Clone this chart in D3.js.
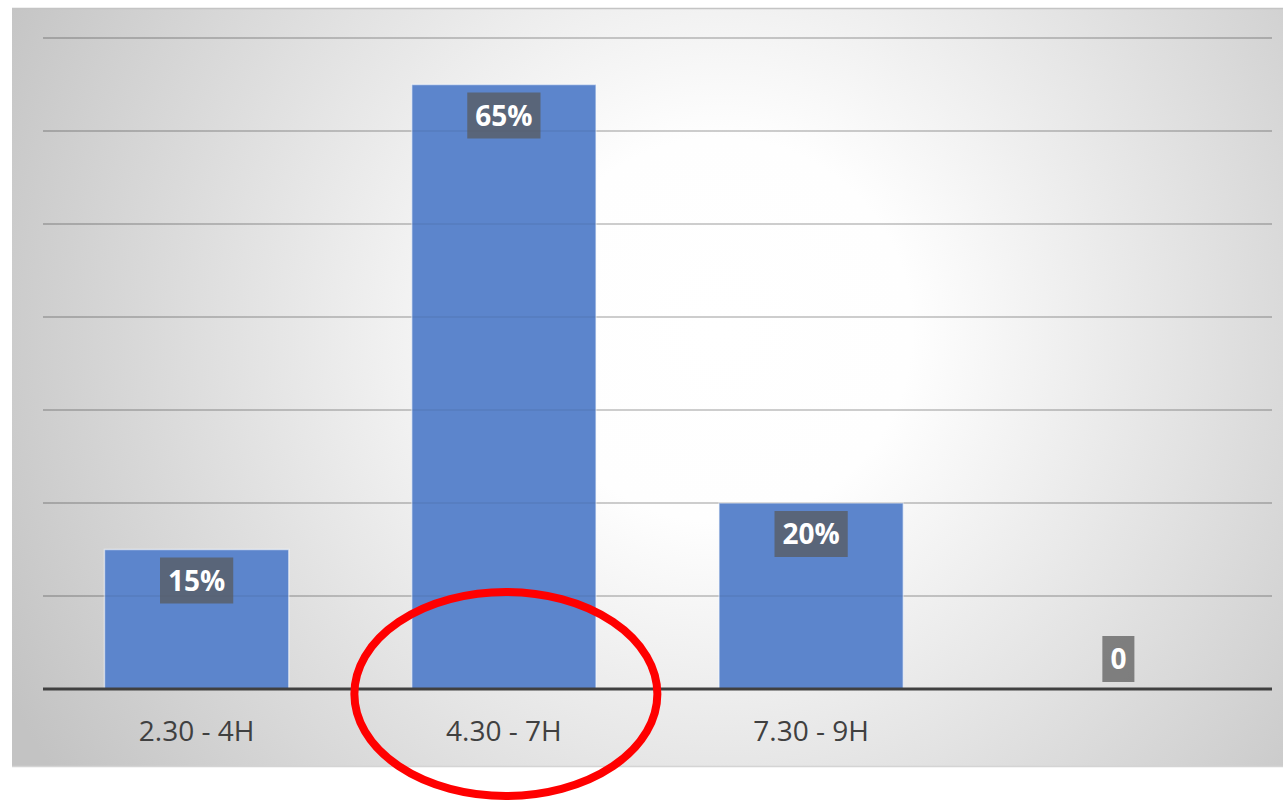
<!DOCTYPE html>
<html>
<head>
<meta charset="utf-8">
<script src="https://cdn.jsdelivr.net/npm/d3@7"></script>
<style>
  body { margin: 0; background: #ffffff; }
  svg { display: block; }
</style>
</head>
<body>
<div class="chart"></div>
<script>
const categories = ["2.30 - 4H", "4.30 - 7H", "7.30 - 9H", ""]
const values = [15, 65, 20, 0]
const valueLabels = ["15%", "65%", "20%", "0"]
const yTicks = [10, 20, 30, 40, 50, 60, 70]

const data = categories.map((c, i) => ({ category: c, value: values[i], label: valueLabels[i] }))

const dims = { width: 1283, height: 801 }
const plot = { left: 43, right: 1272, top: 38, bottom: 689 }

const xScale = d3.scaleBand()
  .domain(categories)
  .range([plot.left, plot.right])
  .paddingInner(0.4)
  .paddingOuter(0.2)

const yScale = d3.scaleLinear()
  .domain([0, 70])
  .range([plot.bottom, plot.top])

const svg = d3.select(".chart")
  .append("svg")
    .attr("width", dims.width)
    .attr("height", dims.height)

const defs = svg.append("defs")
const grad = defs.append("radialGradient")
    .attr("id", "bg")
    .attr("gradientUnits", "userSpaceOnUse")
    .attr("cx", 720).attr("cy", 330).attr("r", 800)
grad.append("stop").attr("offset", "0%").attr("stop-color", "#ffffff")
grad.append("stop").attr("offset", "24%").attr("stop-color", "#fefefe")
grad.append("stop").attr("offset", "100%").attr("stop-color", "#c3c3c3")

// chart area
svg.append("rect")
    .attr("x", 12).attr("y", 8)
    .attr("width", dims.width - 12).attr("height", 758)
    .attr("fill", "url(#bg)")
svg.append("line")
    .attr("x1", 12).attr("x2", dims.width)
    .attr("y1", 8.5).attr("y2", 8.5)
    .attr("stroke", "#c4c4c4").attr("stroke-width", 1.5)
svg.append("line")
    .attr("x1", 12).attr("x2", dims.width)
    .attr("y1", 766.5).attr("y2", 766.5)
    .attr("stroke", "#d4d4d4").attr("stroke-width", 1.5)

// gridlines
const drawGrid = (opacity) => svg.append("g")
  .selectAll("line")
  .data(yTicks)
  .join("line")
    .attr("x1", plot.left).attr("x2", plot.right)
    .attr("y1", d => yScale(d)).attr("y2", d => yScale(d))
    .attr("stroke", `rgba(0,0,0,${opacity})`)
    .attr("stroke-width", 1.5)
drawGrid(0.2)

// bars
svg.append("g")
  .selectAll("rect")
  .data(data.filter(d => d.value > 0))
  .join("rect")
    .attr("x", d => xScale(d.category))
    .attr("y", d => yScale(d.value))
    .attr("width", xScale.bandwidth())
    .attr("height", d => yScale(0) - yScale(d.value))
    .attr("fill", "#5c85cc")
    .attr("stroke", "rgba(255,255,255,0.55)")
    .attr("stroke-width", 1.5)

// gridlines faintly showing through the bars
drawGrid(0.07)

// baseline
svg.append("line")
    .attr("x1", plot.left).attr("x2", plot.right)
    .attr("y1", yScale(0)).attr("y2", yScale(0))
    .attr("stroke", "#404040")
    .attr("stroke-width", 3)

// x labels
const xAxis = svg.append("g")
    .attr("transform", `translate(0, ${plot.bottom})`)
    .call(d3.axisBottom(xScale).tickSize(0).tickPadding(32))
    .call(g => g.select(".domain").remove())
xAxis.selectAll("text")
    .attr("font-family", "'Open Sans', sans-serif")
    .attr("font-size", 28)
    .attr("fill", "#404040")

// data labels
const labelH = 46
const labels = svg.append("g")
  .selectAll("g")
  .data(data)
  .join("g")
    .attr("transform", d => {
      const cx = xScale(d.category) + xScale.bandwidth() / 2
      const top = d.value > 0 ? yScale(d.value) + 8 : yScale(0) - 7 - labelH
      return `translate(${cx}, ${top})`
    })
const labelText = labels.append("text")
    .attr("y", labelH / 2)
    .attr("dy", "0.36em")
    .attr("text-anchor", "middle")
    .attr("font-family", "'Open Sans', sans-serif")
    .attr("font-weight", "bold")
    .attr("font-size", 28)
    .attr("fill", "#ffffff")
    .text(d => d.label)
labelText.each(function() {
  const w = this.getBBox().width + 16
  d3.select(this.parentNode).insert("rect", "text")
      .attr("x", -w / 2)
      .attr("width", w)
      .attr("height", labelH)
      .attr("fill", "rgba(89,89,89,0.72)")
})

// annotation ellipse
svg.append("ellipse")
    .attr("cx", xScale("4.30 - 7H") + xScale.bandwidth() / 2 + 2)
    .attr("cy", 694)
    .attr("rx", 151.5)
    .attr("ry", 102)
    .attr("fill", "none")
    .attr("stroke", "#ff0000")
    .attr("stroke-width", 8)
</script>
</body>
</html>
